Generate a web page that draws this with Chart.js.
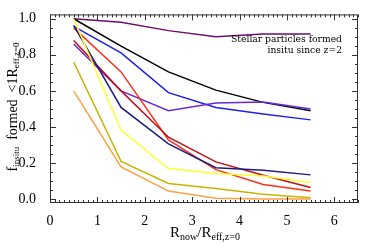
<!DOCTYPE html>
<html><head><meta charset="utf-8">
<script src="https://cdn.jsdelivr.net/npm/chart.js@4/dist/chart.umd.min.js"></script>
<style>html,body{margin:0;padding:0;background:#fff}#w{width:374px;height:249px}</style>
</head><body><div id="w"><canvas id="c"></canvas></div>
<script>
const radii = [0.5, 1.5, 2.5, 3.5, 4.5, 5.5];
const xTicks = [0, 1, 2, 3, 4, 5, 6];
const yTicks = [0.0, 0.2, 0.4, 0.6, 0.8, 1.0];
const sPurple = [1.00, 0.98, 0.934, 0.900, 0.915, 0.915];
const sBlack  = [1.00, 0.848, 0.705, 0.604, 0.536, 0.490];
const sBlue   = [0.958, 0.811, 0.590, 0.508, 0.472, 0.439];
const sViolet = [0.860, 0.600, 0.490, 0.532, 0.538, 0.499];
const sRed    = [0.949, 0.705, 0.328, 0.163, 0.081, 0.044];
const sDarkRed= [0.879, 0.600, 0.343, 0.206, 0.132, 0.064];
const sNavy   = [0.963, 0.508, 0.306, 0.174, 0.160, 0.134];
const sYellow = [1.00, 0.383, 0.169, 0.141, 0.128, 0.092];
const sOlive  = [0.760, 0.209, 0.086, 0.059, 0.026, 0.007];
const sOrange = [0.600, 0.178, 0.044, 0.004, 0.000, 0.000];
const series = [
  [sOrange,'#ffa040'],[sOlive,'#c8b400'],[sYellow,'#ffff30'],[sNavy,'#1c1c84'],
  [sDarkRed,'#c01018'],[sRed,'#ff3018'],[sViolet,'#6a28d8'],[sBlue,'#2020e8'],
  [sBlack,'#000000'],[sPurple,'#6c0c70']
];
const SERIF = '"Liberation Serif","DejaVu Serif",serif';
const WSERIF = '"DejaVu Serif","Liberation Serif",serif';

function drawMixed(ctx, segs, cx, cy, big, small, fam, off){
  let w = 0;
  segs.forEach(s=>{ctx.font=(s[1]?small:big)+'px '+fam; s.w=ctx.measureText(s[0]).width; w+=s.w;});
  let x = cx - w/2;
  ctx.textBaseline='alphabetic'; ctx.textAlign='left'; ctx.fillStyle='#000';
  segs.forEach(s=>{ctx.font=(s[1]?small:big)+'px '+fam; ctx.fillText(s[0], x, cy + (s[1]?off:0)); x+=s.w;});
}

const frame = {
  id:'frame',
  afterDraw(chart){
    const ctx=chart.ctx, a=chart.chartArea, xs=chart.scales.x, ys=chart.scales.y;
    ctx.save();
    ctx.strokeStyle='#333'; ctx.lineWidth=1;
    ctx.strokeRect(a.left+0.5, a.top+0.5, a.right-a.left-1, a.bottom-a.top-1);
    ctx.beginPath();
    for(let i=0;i<=65;i++){
      const v=i/10, px=Math.round(xs.getPixelForValue(v))+0.5;
      const L = (i%10===0)?6:3;
      ctx.moveTo(px,a.bottom); ctx.lineTo(px,a.bottom-L);
      ctx.moveTo(px,a.top); ctx.lineTo(px,a.top+L);
    }
    for(let i=0;i<=20;i++){
      const v=i*0.05, py=Math.round(ys.getPixelForValue(v))+0.5;
      const L = (i%4===0)?6:3;
      ctx.moveTo(a.left,py); ctx.lineTo(a.left+L,py);
      ctx.moveTo(a.right,py); ctx.lineTo(a.right-L,py);
    }
    ctx.stroke();
    // annotation
    ctx.fillStyle='#000'; ctx.textAlign='right'; ctx.textBaseline='middle';
    ctx.font='9.2px '+WSERIF;
    ctx.fillText('Stellar particles formed', 342, 40);
    ctx.fillText('insitu since z=2', 342, 51);
    // x title
    drawMixed(ctx, [['R',0],['now',1],['/R',0],['eff,z=0',1]], 205, 237, 15, 10, SERIF, 3);
    // y title
    ctx.translate(12, 107); ctx.rotate(-Math.PI/2);
    drawMixed(ctx, [['f',0],['insitu',1],['  formed  <1R',0],['eff,z=0',1]], 0, 5, 14, 9, SERIF, 2);
    ctx.restore();
  }
};

new Chart(document.getElementById('c'), {
  type:'line',
  data:{datasets: series.map(s=>({
    data: radii.map((r,i)=>({x:r,y:s[0][i]})),
    borderColor:s[1], borderWidth:1.5, pointRadius:0, fill:false, tension:0
  }))},
  options:{
    responsive:true, maintainAspectRatio:false, animation:false,
    layout:{padding:{top:13,right:16,left:0,bottom:0}},
    plugins:{legend:{display:false},tooltip:{enabled:false}},
    scales:{
      x:{type:'linear',min:0,max:6.5,
        afterBuildTicks(s){s.ticks=xTicks.map(v=>({value:v}));},
        afterFit(s){s.height=46;},
        grid:{display:false},border:{display:false},
        ticks:{color:'#000',padding:2,font:{family:SERIF,size:14},callback:v=>String(v),maxRotation:0}},
      y:{type:'linear',min:-0.022,max:1.024,
        afterBuildTicks(s){s.ticks=yTicks.map(v=>({value:v}));},
        afterFit(s){s.width=50;},
        grid:{display:false},border:{display:false},
        ticks:{color:'#000',padding:6,font:{family:SERIF,size:14},callback:v=>Number(v).toFixed(1)}}
    }
  },
  plugins:[frame]
});
</script></body></html>
